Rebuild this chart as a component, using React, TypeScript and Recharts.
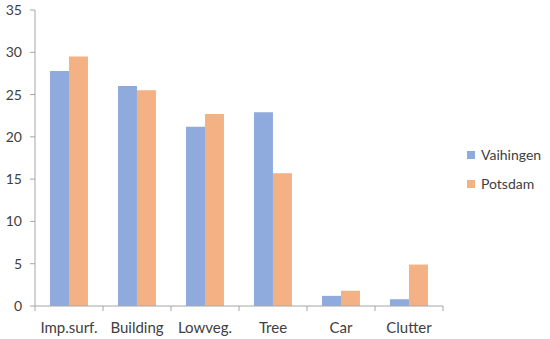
import React from "react";
import { BarChart, Bar, XAxis, YAxis, Legend } from "recharts";

const categories = ["Imp.surf.", "Building", "Lowveg.", "Tree", "Car", "Clutter"];
const vaihingen = [27.8, 26.0, 21.2, 22.9, 1.2, 0.8];
const potsdam = [29.5, 25.5, 22.7, 15.7, 1.8, 4.9];
const yTicks = [0, 5, 10, 15, 20, 25, 30, 35];
const seriesNames = ["Vaihingen", "Potsdam"];

const data = categories.map((c, i) => ({ name: c, Vaihingen: vaihingen[i], Potsdam: potsdam[i] }));

const W = 550;
const H = 339;
const MARGIN = { top: 10, right: 107, bottom: 0, left: 0 };
const YW = 35;
const PLOT_W = W - MARGIN.left - MARGIN.right - YW;
const BAND = PLOT_W / categories.length;

const BLUE = "#8FAADC";
const ORANGE = "#F4B183";
const AXIS = "#a6a6a6";
const TEXT = "#404040";
const FONT = "Lato, 'Liberation Sans', sans-serif";

const XTick = (props: any) => {
  const { x, y, payload, index } = props;
  return (
    <g>
      <line x1={x - BAND / 2} x2={x - BAND / 2} y1={y} y2={y + 5} stroke={AXIS} />
      {index === categories.length - 1 && (
        <line x1={x + BAND / 2} x2={x + BAND / 2} y1={y} y2={y + 5} stroke={AXIS} />
      )}
      <text x={x} y={y + 27} textAnchor="middle" fill={TEXT} fontSize={15} fontFamily={FONT}>
        {payload.value}
      </text>
    </g>
  );
};

const LegendContent = () => {
  const colors = [BLUE, ORANGE];
  return (
    <div style={{ fontFamily: FONT, fontSize: 14, color: TEXT }}>
      {seriesNames.map((n, i) => (
        <div key={n} style={{ display: "flex", alignItems: "center", height: 29 }}>
          <span style={{ display: "inline-block", width: 8, height: 8, background: colors[i], marginRight: 6 }} />
          <span>{n}</span>
        </div>
      ))}
    </div>
  );
};

export default function App() {
  return (
    <div style={{ position: "absolute", left: 0, top: 0, width: W, height: H, background: "#fff" }}>
      <BarChart width={W} height={H} data={data} margin={MARGIN} barGap={0} barCategoryGap="22%">
        <XAxis
          dataKey="name"
          stroke={AXIS}
          tickLine={false}
          tickSize={0}
          tickMargin={0}
          height={33}
          interval={0}
          tick={<XTick />}
        />
        <YAxis
          domain={[0, 35]}
          ticks={yTicks}
          width={YW}
          stroke={AXIS}
          tickSize={5}
          tickMargin={8}
          interval={0}
          tick={{ fill: TEXT, fontSize: 14, fontFamily: FONT }}
        />
        <Legend
          layout="vertical"
          align="center"
          verticalAlign="middle"
          content={<LegendContent />}
          wrapperStyle={{ left: 467, top: 140, width: 90 }}
        />
        <Bar dataKey="Vaihingen" fill={BLUE} isAnimationActive={false} />
        <Bar dataKey="Potsdam" fill={ORANGE} isAnimationActive={false} />
      </BarChart>
    </div>
  );
}
